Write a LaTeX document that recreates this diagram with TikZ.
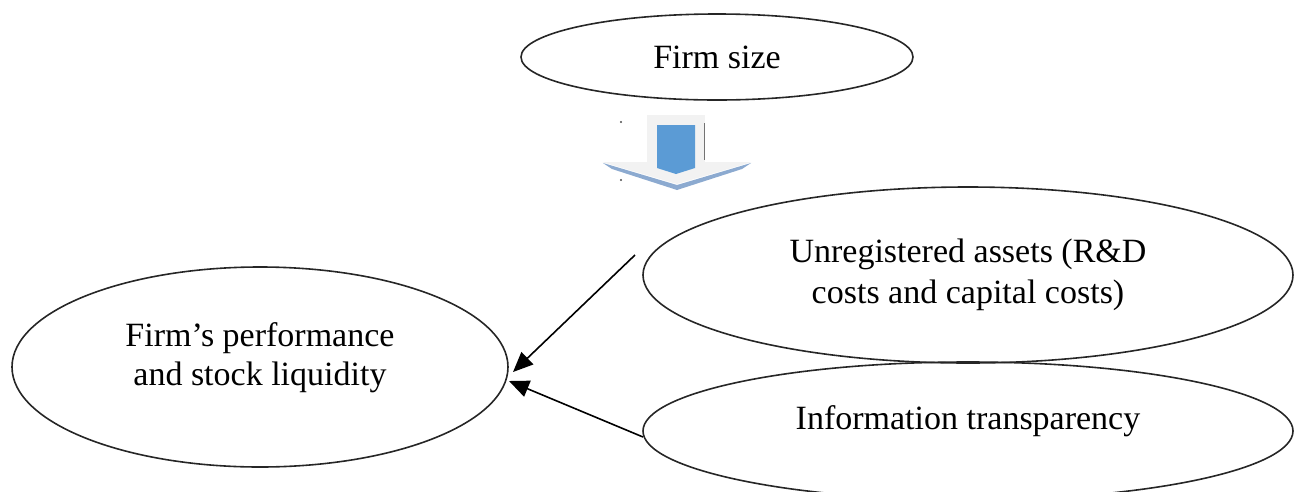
\documentclass[tikz,border=0pt]{standalone}
\usepackage{fontspec}
\setmainfont{Liberation Serif}
\usetikzlibrary{shapes.geometric,arrows.meta}
\definecolor{shaftblue}{RGB}{91,155,213}
\definecolor{rimblue}{RGB}{140,170,208}
\definecolor{faceg}{RGB}{242,242,242}
\begin{document}
\begin{tikzpicture}[x=1pt,y=-1pt,
  oval/.style={ellipse,draw=black!85,line width=1.6pt,inner sep=0pt,
    font=\fontsize{34}{44}\selectfont,align=center},
  link/.style={line width=1.6pt,-{Triangle[length=20pt,width=17pt]}}]
\useasboundingbox (0,0) rectangle (1294,491);
% ellipses
\node[oval,minimum width=392pt,minimum height=86pt] (size) at (717,57) {Firm size};
\node[oval,minimum width=496pt,minimum height=200pt] (perf) at (260,367)
  {\raisebox{26pt}{\shortstack{Firm’s performance\\[5pt]and stock liquidity}}};
\node[oval,minimum width=650pt,minimum height=176pt] (assets) at (968,275)
  {\raisebox{1pt}{\shortstack{Unregistered assets (R\&D\\[7pt]costs and capital costs)}}};
\node[oval,minimum width=650pt,minimum height=138pt] (info) at (968,431)
  {\raisebox{27pt}{Information transparency}};
% connectors
\coordinate (a1) at (635,255);
\coordinate (a2) at (643,437);
\coordinate (t1) at (513,372);
\coordinate (t2) at (509,381);
\draw[link] (a1) -- (t1);
\draw[link] (a2) -- (t2);
% block arrow between size and the lower ellipses
\fill[faceg] (647,115) rectangle (705,162);
\draw[black!55,line width=1pt] (704,123) -- (704,160);
\fill[faceg] (602,162) -- (752,162) -- (677,184) -- cycle;
\fill[rimblue] (603,163) -- (677,185) -- (751,163) -- (742,169) -- (677,190) -- (612,169) -- cycle;
\fill[shaftblue] (657,125) -- (695,125) -- (695,168) -- (676,174) -- (657,168) -- cycle;
\fill[black!70] (621,122) circle (1.2pt);
\fill[black!70] (621,180) circle (1.2pt);
\end{tikzpicture}
\end{document}
